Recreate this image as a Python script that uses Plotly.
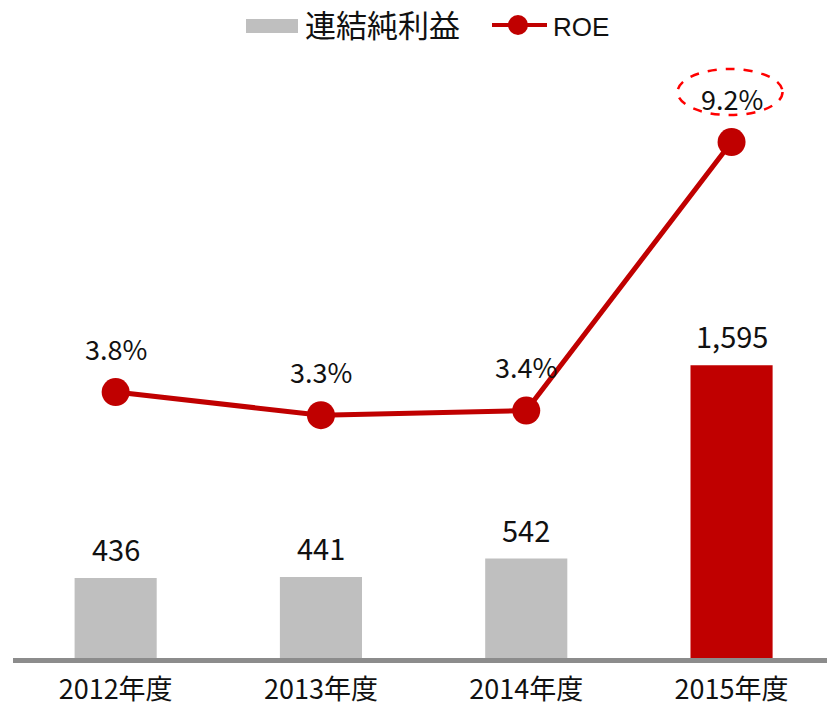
import plotly.graph_objects as go

categories = ["2012年度", "2013年度", "2014年度", "2015年度"]
net_income = [436, 441, 542, 1595]
roe = [3.8, 3.3, 3.4, 9.2]
bar_colors = ["#BFBFBF", "#BFBFBF", "#BFBFBF", "#C00000"]
legend_bar = "連結純利益"
legend_line = "ROE"

W, H = 827, 713
ML, MR, MT, MB = 13, 0, 50, 55
PW, PH = W - ML - MR, H - MT - MB

def px_x(p):
    return (p - ML) / PW

def px_y(p):
    return (H - MB - p) / PH

FONT = "Noto Sans CJK JP, Noto Sans, sans-serif"
RED = "#C00000"
xs = list(range(len(categories)))

fig = go.Figure()
fig.add_trace(go.Bar(
    x=xs, y=net_income, marker=dict(color=bar_colors, line=dict(width=0)),
    width=0.4, name=legend_bar, showlegend=False, yaxis="y", hoverinfo="skip",
))
fig.add_trace(go.Scatter(
    x=xs, y=roe, mode="lines+markers", yaxis="y2", name=legend_line,
    line=dict(color=RED, width=5), marker=dict(color=RED, size=28),
    showlegend=False, hoverinfo="skip",
))

annotations = []
for i, v in enumerate(net_income):
    annotations.append(dict(x=i, y=v, xref="x", yref="y", text=f"{v:,}",
                            showarrow=False, yanchor="middle", yshift=30,
                            font=dict(family=FONT, size=29, color="#111111")))
for i, v in enumerate(roe):
    annotations.append(dict(x=i, y=v, xref="x", yref="y2", text=f"{v}%",
                            showarrow=False, yanchor="middle", yshift=44,
                            font=dict(family=FONT, size=27, color="#111111")))

# custom legend
annotations.append(dict(x=px_x(303), y=px_y(24), xref="paper", yref="paper",
                        text=legend_bar, showarrow=False, xanchor="left", yanchor="middle",
                        font=dict(family="Noto Sans CJK JP, sans-serif", size=31, color="#111111")))
annotations.append(dict(x=px_x(551), y=px_y(27), xref="paper", yref="paper",
                        text=legend_line, showarrow=False, xanchor="left", yanchor="middle",
                        font=dict(family="Liberation Sans, Arial, sans-serif", size=26, color="#111111")))

shapes = [
    dict(type="rect", xref="paper", yref="paper", x0=px_x(246), x1=px_x(298),
         y0=px_y(33), y1=px_y(19), fillcolor="#BFBFBF", line=dict(width=0)),
    dict(type="line", xref="paper", yref="paper", x0=px_x(492), x1=px_x(547),
         y0=px_y(25), y1=px_y(25), line=dict(color=RED, width=4)),
    dict(type="circle", xref="paper", yref="paper", x0=px_x(508), x1=px_x(528),
         y0=px_y(35), y1=px_y(15), fillcolor=RED, line=dict(width=0)),
    # dashed highlight ellipse around last ROE label
    dict(type="circle", xref="x", yref="y2", xsizemode="pixel", ysizemode="pixel",
         xanchor=3, yanchor=roe[3], x0=-54, x1=51, y0=27, y1=73,
         line=dict(color="#FF0000", width=2.5, dash="dash"), fillcolor="rgba(0,0,0,0)"),
]

fig.update_layout(
    width=W, height=H,
    margin=dict(l=ML, r=MR, t=MT, b=MB, autoexpand=False),
    paper_bgcolor="white", plot_bgcolor="white",
    showlegend=False,
    xaxis=dict(range=[-0.5, -0.5 + PW / 205.3], tickmode="array", tickvals=xs,
               ticktext=categories, showline=True, linecolor="#8C8C8C", linewidth=5,
               ticks="", showgrid=False, zeroline=False, ticklabelstandoff=4,
               automargin=False,
               tickfont=dict(family=FONT, size=27, color="#111111")),
    yaxis=dict(range=[0, PH / 0.1835], visible=False, showgrid=False, zeroline=False,
               automargin=False),
    yaxis2=dict(range=[-(658 - 568) / 46.3, (568 - MT) / 46.3], overlaying="y",
                visible=False, showgrid=False, zeroline=False, automargin=False),
    annotations=annotations,
    shapes=shapes,
)

fig.write_html("out.html", config={"displayModeBar": False},
               post_script="document.body.style.margin='0';")
